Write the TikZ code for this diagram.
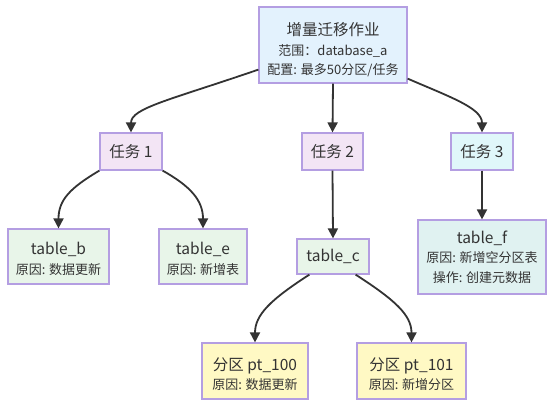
\documentclass[tikz,border=0pt]{standalone}
\usepackage{fontspec}
\setmainfont{Noto Sans CJK SC}
\usetikzlibrary{arrows.meta,calc}
\definecolor{bordc}{RGB}{180,158,226}
\definecolor{edgec}{RGB}{51,51,51}
\definecolor{txtc}{RGB}{51,51,51}
\definecolor{fblue}{HTML}{E3F2FD}
\definecolor{fpurple}{HTML}{F3E5F5}
\definecolor{fcyan}{HTML}{E0F7FA}
\definecolor{fgreen}{HTML}{E8F5E9}
\definecolor{fteal}{HTML}{E0F2F1}
\definecolor{fyellow}{HTML}{FFF9C4}
\newcommand{\bigtxt}[1]{{\fontsize{15.5bp}{19.5bp}\selectfont #1}}
\newcommand{\lift}[1]{\rule{0pt}{#1}}
\tikzset{
  box/.style={draw=bordc, line width=1.2bp, rectangle, inner sep=0pt, align=center,
    text=txtc, font=\fontsize{13bp}{19.5bp}\selectfont},
  conn/.style={draw=edgec, line width=1.8bp, -{Triangle[length=10bp,width=10bp]}},
}
\begin{document}
\begin{tikzpicture}[x=1bp,y=-1bp]
\useasboundingbox (0,0) rectangle (554,408);
\node[box, fill=fblue, minimum width=148bp, minimum height=76bp] (top) at (333,45)
  {\lift{23bp}\bigtxt{增量迁移作业}\\范围：database\_a\\配置: 最多50分区/任务};
\node[box, fill=fpurple, minimum width=62bp, minimum height=37bp] (t1) at (131,151.5) {\bigtxt{任务 1}};
\node[box, fill=fpurple, minimum width=61bp, minimum height=37bp] (t2) at (332.5,151.5) {\bigtxt{任务 2}};
\node[box, fill=fcyan, minimum width=62bp, minimum height=37bp] (t3) at (482,151.5) {\bigtxt{任务 3}};
\node[box, fill=fgreen, minimum width=101bp, minimum height=55bp] (tb) at (58.5,256.5) {\lift{17bp}\bigtxt{table\_b}\\原因: 数据更新};
\node[box, fill=fgreen, minimum width=88bp, minimum height=55bp] (te) at (203,256.5) {\lift{17bp}\bigtxt{table\_e}\\原因: 新增表};
\node[box, fill=fgreen, minimum width=72bp, minimum height=35bp] (tc) at (333,256.5) {\bigtxt{table\_c}};
\node[box, fill=fteal, minimum width=128bp, minimum height=74bp] (tf) at (482,257) {\bigtxt{table\_f}\\原因: 新增空分区表\\操作: 创建元数据};
\node[box, fill=fyellow, minimum width=106bp, minimum height=56bp] (p100) at (255,371) {\lift{19bp}\bigtxt{分区 pt\_100}\\原因: 数据更新};
\node[box, fill=fyellow, minimum width=109bp, minimum height=56bp] (p101) at (411.5,371) {\lift{19bp}\bigtxt{分区 pt\_101}\\原因: 新增分区};

\draw[conn] ($(top.south west)+(0,-14)$) .. controls (170,100) and (131,108) .. (t1.north);
\draw[conn] (top.south) -- (t2.north);
\draw[conn] ($(top.south east)+(0,-5)$) .. controls (450,97) and (482,108) .. (t3.north);
\draw[conn] (t1.south west) .. controls (70,188) and (58.5,200) .. (tb.north);
\draw[conn] (t1.south east) .. controls (190,186) and (203,200) .. (te.north);
\draw[conn] (t2.south) -- (tc.north);
\draw[conn] (t3.south) -- (tf.north);
\draw[conn] ($(tc.south west)+(13,0)$) .. controls (270,300) and (255,315) .. (p100.north);
\draw[conn] ($(tc.south east)+(-14,0)$) .. controls (395,300) and (411.5,315) .. (p101.north);
\end{tikzpicture}
\end{document}
